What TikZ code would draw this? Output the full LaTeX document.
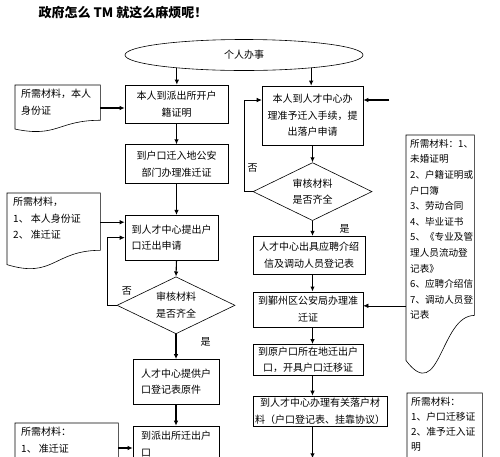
\documentclass[tikz,border=0pt]{standalone}
\usepackage{fontspec}
\setmainfont{Noto Sans CJK SC}
\usetikzlibrary{positioning, shapes.geometric, arrows.meta, calc}

\begin{document}
\begin{tikzpicture}[
    x=1pt, y=-1pt,
    >={Latex[length=5pt,width=4.5pt]},
    font=\fontsize{10}{16.5}\selectfont,
    arrow/.style={
        ->,
        line width=1.1pt
    },
    loopline/.style={
        ->,
        line width=0.6pt
    },
    box/.style={
        rectangle,
        draw,
        line width=0.6pt,
        inner xsep=2pt,
        inner ysep=1pt,
        align=center
    },
    leftbox/.style={
        box,
        align=left
    },
    check/.style={
        diamond,
        draw,
        line width=0.6pt,
        aspect=2,
        inner sep=0pt,
        align=center,
        minimum width=118pt,
        minimum height=57pt
    },
    oval/.style={
        ellipse,
        draw,
        line width=0.6pt,
        inner sep=0pt,
        minimum width=238pt,
        minimum height=31pt
    },
    docframe/.style={
        rectangle,
        anchor=north west,
        inner sep=0pt
    },
    doctext/.style={
        anchor=north west,
        align=left,
        inner xsep=6pt,
        inner ysep=4pt
    },
    answer/.style={
        inner sep=0pt
    }
]
    \useasboundingbox (0,0) rectangle (500,456);
    \clip (0,0) rectangle (500,456);

    % Title
    \node[font=\fontsize{13}{13}\selectfont\bfseries] (title) at (123,13) {政府怎么 TM 就这么麻烦呢！};

    % Start
    \node[oval] (start) at (244,55) {个人办事};

    % --- Left column ---
    \node[box, minimum width=103pt, minimum height=38pt] (box1) at (176.5,104) {本人到派出所开户\\籍证明};
    \node[box, minimum width=103pt, minimum height=39pt, below=21pt of box1] (box2) {到户口迁入地公安\\部门办理准迁证};
    \node[leftbox, minimum width=93pt, minimum height=45pt, below=31pt of box2, xshift=-5pt] (box3) {到人才中心提出户\\口迁出申请};
    \node[check, below=16pt of box3, xshift=4.5pt] (dia1) {审核材料\\是否齐全};
    \node[leftbox, minimum width=86pt, minimum height=45pt, below=25pt of dia1] (box4) {人才中心提供户\\口登记表原件};
    \node[leftbox, minimum width=86pt, minimum height=36pt, below=21pt of box4] (box5) {到派出所迁出户\\口};

    % Materials (left)
    \node[docframe, minimum width=85pt, minimum height=46pt] (doc1) at (15,85) {};
    \node[doctext] (doc1t) at (doc1.north west) {所需材料，本人\\身份证};
    \node[docframe, minimum width=93pt, minimum height=75pt] (doc2) at (7,193) {};
    \node[doctext] (doc2t) at (doc2.north west) {所需材料，\\1、 本人身份证\\2、 准迁证};
    \node[docframe, minimum width=103pt, minimum height=60pt] (doc3) at (15,423) {};
    \node[doctext] (doc3t) at (doc3.north west) {所需材料：\\1、 准迁证};

    \draw[arrow] (start.191) -- (start.191 |- box1.north);
    \draw[arrow] (box1) -- (box2);
    \draw[arrow] (box2.south) -- (box2.south |- box3.north);
    \draw[arrow] (box2.south |- box3.south) -- (dia1.north);
    \draw[arrow] (dia1.south) -- (dia1.south |- box4.north)
        node[answer, pos=0.3, right=24pt] (yes1) {是};
    \draw[arrow] (box4.south) -- (box4.south |- box5.north);

    \coordinate (b1in) at ($(box1.west)+(0,4)$);
    \coordinate (b3in) at ($(box3.west)+(0,-15.5)$);
    \coordinate (b5in) at ($(box5.west)+(0,4)$);
    \draw[arrow] (b1in -| doc1.east) -- (b1in);
    \draw[arrow] (b3in -| doc2.east) -- (b3in);
    \draw[arrow] (b5in -| doc3.east) -- (b5in);
    \draw[loopline] (dia1.west) -- ++(-9,0) |- (box3.west);
    \node[answer, above right=10pt and 5pt of dia1.west] (no1) {否};

    % --- Right column ---
    \node[box, minimum width=101pt, minimum height=59pt] (r1) at (312.5,115.5) {本人到人才中心办\\理准予迁入手续，提\\出落户申请};
    \node[check, minimum width=119pt, minimum height=58pt, below=17pt of r1] (dr) {审核材料\\是否齐全};
    \node[box, minimum width=112pt, minimum height=38pt, below=15pt of dr, xshift=-3.5pt] (r2) {人才中心出具应聘介绍\\信及调动人员登记表};
    \node[box, minimum width=110pt, minimum height=35pt, below=17pt of r2, xshift=-1pt] (r3) {到鄞州区公安局办理准\\迁证};
    \node[box, minimum width=110pt, minimum height=31pt, below=17pt of r3] (r4) {到原户口所在地迁出户\\口，开具户口迁移证};
    \node[box, minimum width=134pt, minimum height=30pt, below=20pt of r4, xshift=12pt] (r5) {到人才中心办理有关落户材\\料（户口登记表、挂靠协议）};
    \node[box, minimum width=135pt, minimum height=40pt, below=32pt of r5, xshift=-7.5pt] (r6) {};

    % Materials (right)
    \node[docframe, minimum width=68pt, minimum height=237pt] (docR) at (406,135) {};
    \node[doctext, font=\fontsize{9.6}{15.6}\selectfont, inner xsep=4pt] (docRt) at (docR.north west)
        {所需材料：1、\\未婚证明\\2、户籍证明或\\户口簿\\3、劳动合同\\4、毕业证书\\5、《专业及管\\理人员流动登\\记表》\\6、应聘介绍信\\7、调动人员登\\记表};
    \node[docframe, minimum width=75pt, minimum height=90pt] (docR2) at (407,393) {};
    \node[doctext, font=\fontsize{9.8}{15}\selectfont, inner xsep=4pt] (docR2t) at (docR2.north west)
        {所需材料：\\1、户口迁移证\\2、准予迁入证\\明};

    \draw[arrow] (start.349) -- (start.349 |- r1.north);
    \draw[arrow] (r1) -- (dr);
    \draw[arrow] (dr.south) -- (dr.south |- r2.north);
    \draw[arrow] (dr.south |- r2.south) -- (dr.south |- r3.north);
    \draw[arrow] (dr.south |- r3.south) -- (dr.south |- r4.north);
    \draw[arrow] (dr.south |- r4.south) -- (dr.south |- r5.north);
    \draw[arrow] (dr.south |- r5.south) -- (dr.south |- r6.north);
    \node[answer, below right=3pt and 27pt of dr.south] (yes2) {是};

    \coordinate (ext) at ($(r1.east)+(26,-15.5)$);
    \coordinate (r3in) at ($(r3.east)+(0,-3.5)$);
    \draw[arrow] (ext) -- (ext -| r1.east);
    \draw[loopline] (dr.west) -- ++(-8,0) |- (ext -| r1.west);
    \node[answer, above=19pt of dr.west] (no2) {否};
    \draw[loopline] (r3in -| docR.west) -- (r3in);

    % Document outlines
    \foreach \d in {doc1, doc2, doc3, docR, docR2}
        \draw[line width=0.6pt] (\d.north west) -- (\d.north east)
            -- ($(\d.north east)!0.76!(\d.south east)$)
            .. controls ($(\d.north)!0.76!(\d.south)$) and ($(\d.north)!1.14!(\d.south)$)
            .. ($(\d.north west)!0.95!(\d.south west)$) -- cycle;

\end{tikzpicture}
\end{document}
